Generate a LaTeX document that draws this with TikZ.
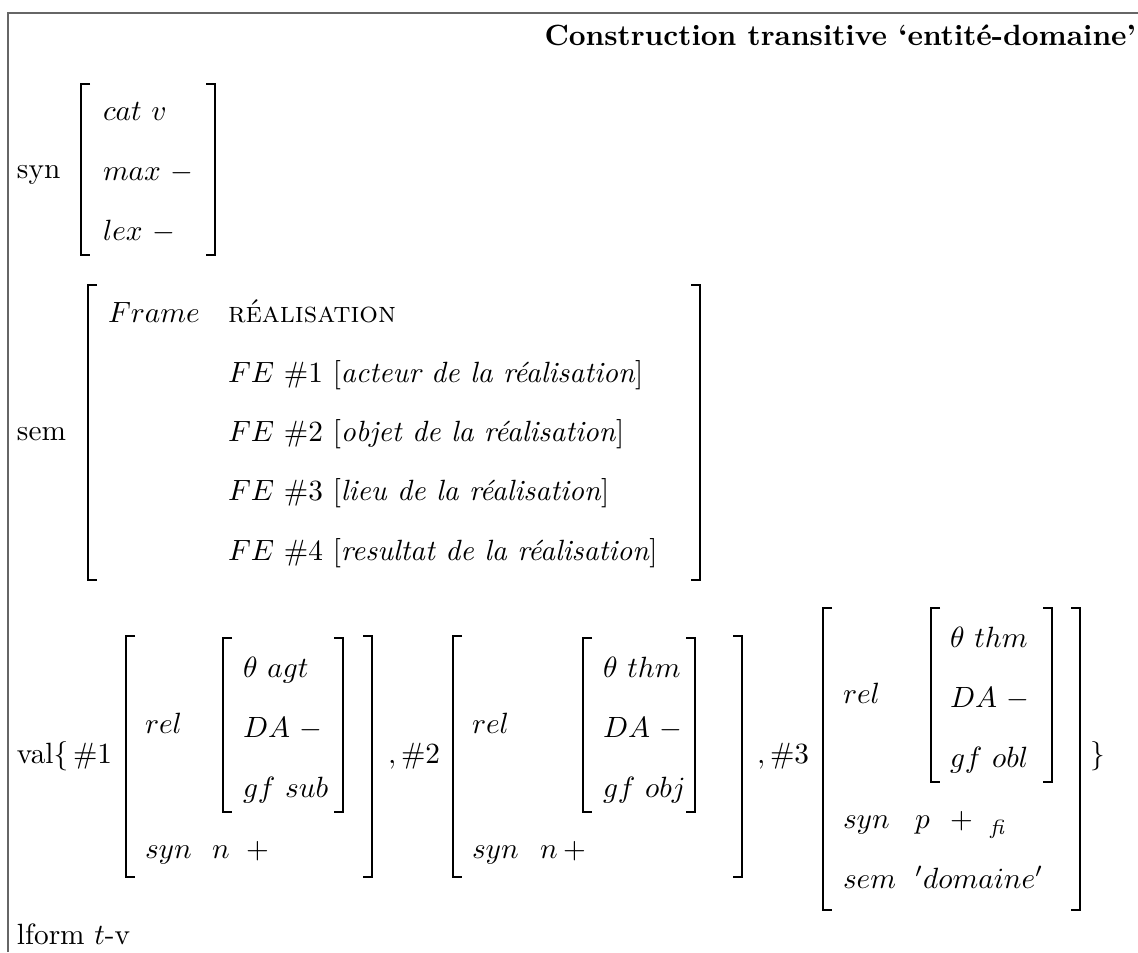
\documentclass[tikz,border=0pt]{standalone}
\usepackage{amsmath}
\begin{document}
\begin{tikzpicture}[x=0.3413pt,y=-0.3413pt,
  lab/.style={anchor=base west, inner sep=0pt, outer sep=0pt},
  brk/.style={line width=0.9pt, line join=miter},
  frm/.style={draw=black!60, line width=0.45pt}]
\useasboundingbox (0,0) rectangle (1138,952);
% frame
\draw[frm] (8,952) -- (8,13) -- (1138,13);
% title
\node[lab, anchor=base east] (title) at (1136,45) {\textbf{Construction transitive `entité-domaine'}};
% syn
\node[lab] (synl) at (17,178) {syn};
\draw[brk] (90,84) -| (81,255) -- (90,255);
\draw[brk] (206,84) -| (215,255) -- (206,255);
\node[lab] (catv) at (103,120) {$cat\ v$};
\node[lab] (maxm) at (103,180) {$max\ -$};
\node[lab] (lexm) at (103,240) {$lex\ -$};
% sem
\node[lab] (seml) at (17,440) {sem};
\draw[brk] (97,285) -| (88,580) -- (97,580);
\draw[brk] (691,285) -| (700,580) -- (691,580);
\node[lab] (frame) at (108,322) {$Frame$};
\node[lab] (real) at (228,322) {\textsc{réalisation}};
\node[lab] (fe1) at (228,382) {$FE$ \#1 [\textit{acteur de la réalisation}]};
\node[lab] (fe2) at (228,441) {$FE$ \#2 [\textit{objet de la réalisation}]};
\node[lab] (fe3) at (228,500) {$FE$ \#3 [\textit{lieu de la réalisation}]};
\node[lab] (fe4) at (228,560) {$FE$ \#4 [\textit{resultat de la réalisation}]};
% val
\node[lab] (vall) at (17,763) {val\{};
\node[lab] (h1) at (73,763) {$\#1$};
% block 1
\draw[brk] (135,636) -| (126,877) -- (135,877);
\draw[brk] (363,636) -| (372,877) -- (363,877);
\node[lab] (rel1) at (145,733) {$rel$};
\draw[brk] (232,638) -| (223,812) -- (232,812);
\draw[brk] (334,638) -| (343,812) -- (334,812);
\node[lab] (th1) at (243,677) {$\theta\ agt$};
\node[lab] (da1) at (243,737) {$DA\ -$};
\node[lab] (gf1) at (243,797) {$gf\ sub$};
\node[lab] (syn1) at (145,858) {$syn$};
\node[lab] (n1) at (212,858) {$n$};
\node[lab] (p1) at (246,858) {$+$};
\node[lab] (h2) at (388,763) {$,\#2$};
% block 2
\draw[brk] (462,636) -| (453,877) -- (462,877);
\draw[brk] (733,636) -| (742,877) -- (733,877);
\node[lab] (rel2) at (472,733) {$rel$};
\draw[brk] (592,638) -| (583,812) -- (592,812);
\draw[brk] (686,638) -| (695,812) -- (686,812);
\node[lab] (th2) at (603,677) {$\theta\ thm$};
\node[lab] (da2) at (603,737) {$DA\ -$};
\node[lab] (gf2) at (603,797) {$gf\ obj$};
\node[lab] (syn2) at (472,858) {$syn$};
\node[lab] (n2) at (540,858) {$n$};
\node[lab] (p2) at (563,858) {$+$};
\node[lab] (h3) at (757,763) {$,\#3$};
% block 3
\draw[brk] (832,608) -| (823,910) -- (832,910);
\draw[brk] (1071,608) -| (1080,910) -- (1071,910);
\node[lab] (rel3) at (843,703) {$rel$};
\draw[brk] (940,608) -| (931,782) -- (940,782);
\draw[brk] (1043,608) -| (1052,782) -- (1043,782);
\node[lab] (th3) at (950,647) {$\theta\ thm$};
\node[lab] (da3) at (950,707) {$DA\ -$};
\node[lab] (gf3) at (950,767) {$gf\ obl$};
\node[lab] (syn3) at (843,828) {$syn$};
\node[lab] (pp3) at (915,828) {$p$};
\node[lab] (p3) at (950,828) {$+$};
\node[lab] (fi3) at (990,834) {\scriptsize\itshape fi};
\node[lab] (sem3) at (843,888) {$sem$};
\node[lab] (dom3) at (915,888) {$'domaine'$};
\node[lab] (close) at (1090,763) {\}};
% lform
\node[lab] (lform) at (17,944) {lform $t$-v};
\end{tikzpicture}
\end{document}
